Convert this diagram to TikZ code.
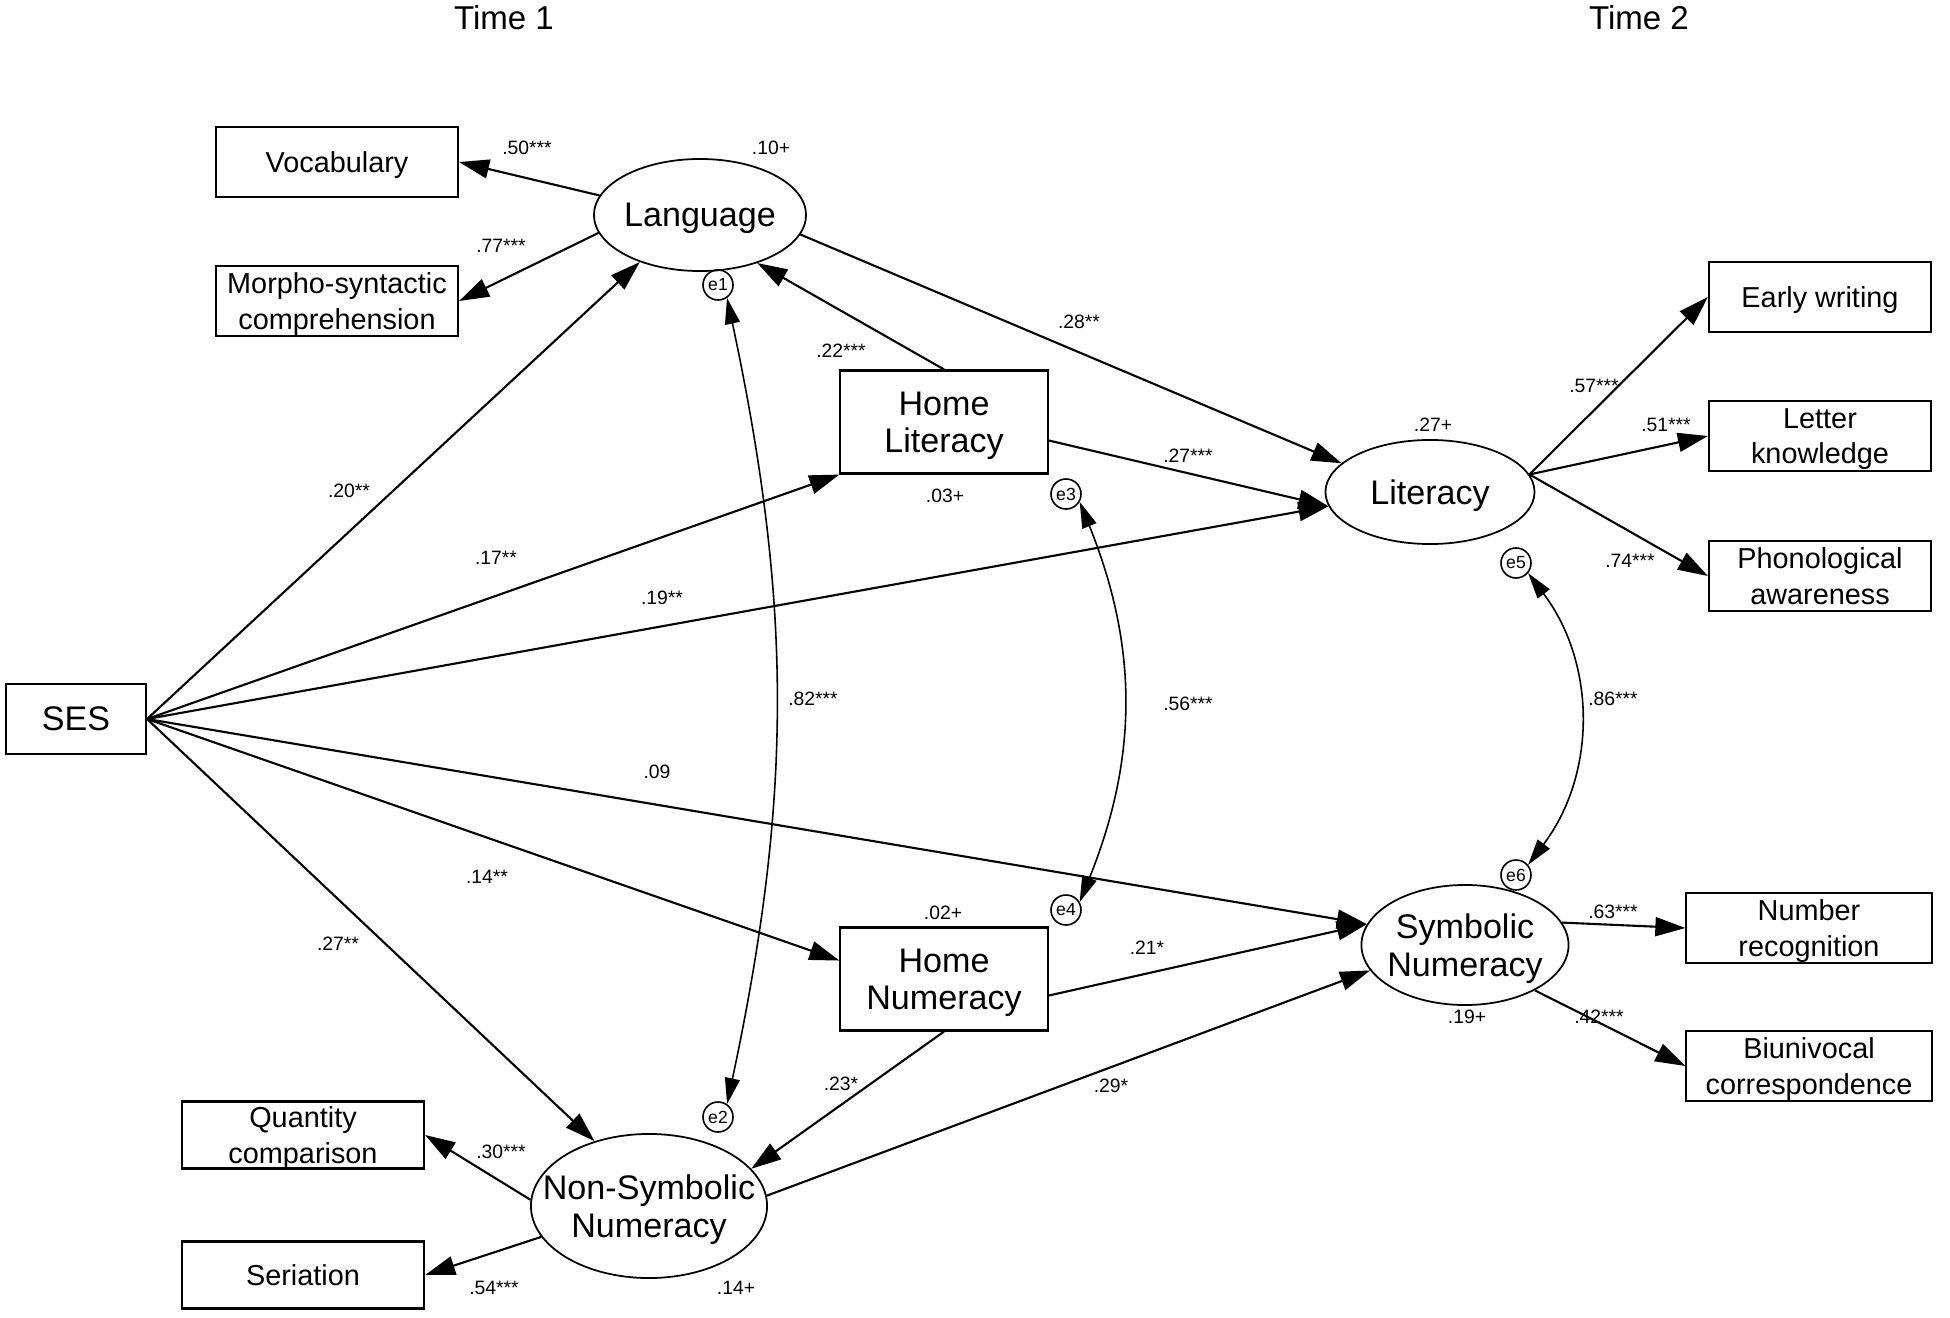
\documentclass[tikz,border=0pt]{standalone}
\usepackage{fontspec}
\setmainfont{Liberation Sans}
\usetikzlibrary{shapes.geometric,arrows.meta}

\begin{document}
\begin{tikzpicture}[x=0.01cm,y=-0.01cm]
                \tikzset{ObsStyle/.style={draw, line width=0.6pt, minimum width=2.42cm, minimum height=0.7cm, inner sep=0pt, text depth=-0.02cm, align=center, font=\fontsize{8.2}{10}\selectfont}}
                \tikzset{HomeStyle/.style={draw, line width=0.6pt, minimum width=2.07cm, minimum height=1.03cm, inner sep=0pt, text depth=-0.02cm, align=center, font=\fontsize{9.7}{10.4}\selectfont}}
                \tikzset{LatStyle/.style={draw, ellipse, line width=0.5pt, inner xsep=-0.3cm, inner ysep=-0.1cm, text depth=-0.02cm, align=center, font=\fontsize{9.7}{11}\selectfont}}
                \tikzset{ErrStyle/.style={draw, circle, line width=0.45pt, minimum size=0.3cm, inner sep=0pt, font=\fontsize{5}{5}\selectfont}}
                \tikzset{CoefStyle/.style={inner sep=0pt, font=\fontsize{5.5}{6}\selectfont}}
                \tikzset{ArrStyle/.style={line width=0.6pt, -{Triangle[length=0.3cm, width=0.19cm]}}}
                \tikzset{CovStyle/.style={line width=0.45pt, {Triangle[length=0.26cm, width=0.15cm]}-{Triangle[length=0.26cm, width=0.15cm]}}}
                \useasboundingbox (0,0) rectangle (1950,1318);
                \node[font=\fontsize{9.4}{10}\selectfont] (T1) at (504,18) {Time 1};
                \node[font=\fontsize{9.4}{10}\selectfont] (T2) at (1639,18) {Time 2};
                \node[ObsStyle] (Voc) at (337,162) {Vocabulary};
                \node[ObsStyle] (Morph) at (337,301) {Morpho-syntactic\\comprehension};
                \node[ObsStyle, minimum width=1.4cm, font=\fontsize{9.7}{10}\selectfont] (SES) at (76,719) {SES};
                \node[ObsStyle, minimum height=0.67cm] (QC) at (303,1135) {Quantity\\comparison};
                \node[ObsStyle, minimum height=0.67cm] (Ser) at (303,1275) {Seriation};
                \node[HomeStyle] (HLit) at (944,422) {Home\\Literacy};
                \node[HomeStyle] (HNum) at (944,979) {Home\\Numeracy};
                \node[ObsStyle, minimum width=2.22cm] (EW) at (1820,297) {Early writing};
                \node[ObsStyle, minimum width=2.22cm] (LK) at (1820,436) {Letter\\knowledge};
                \node[ObsStyle, minimum width=2.22cm] (PA) at (1820,576) {Phonological\\awareness};
                \node[ObsStyle, minimum width=2.45cm] (NR) at (1809,928) {Number\\recognition};
                \node[ObsStyle, minimum width=2.45cm] (BC) at (1809,1066) {Biunivocal\\correspondence};
                \node[LatStyle, minimum width=2.12cm, minimum height=1.12cm] (Lang) at (700,215) {Language};
                \node[LatStyle, minimum width=2.09cm, minimum height=1.04cm] (Lit) at (1430,492) {Literacy};
                \node[LatStyle, minimum width=2.07cm, minimum height=1.2cm] (SN) at (1465,945) {Symbolic\\Numeracy};
                \node[LatStyle, minimum width=2.36cm, minimum height=1.44cm] (NSN) at (649,1206) {Non-Symbolic\\Numeracy};
                \node[ErrStyle] (E1) at (718,285) {e1};
                \node[ErrStyle] (E2) at (718,1117) {e2};
                \node[ErrStyle] (E3) at (1066,494) {e3};
                \node[ErrStyle] (E4) at (1066,910) {e4};
                \node[ErrStyle] (E5) at (1516,563) {e5};
                \node[ErrStyle] (E6) at (1516,875) {e6};
                \draw[ArrStyle] (Lang.169) -- (Voc.east);
                \draw[ArrStyle] (Lang.190) -- (Morph.east);
                \draw[ArrStyle] (Lang.-11) -- (Lit.162);
                \draw[ArrStyle] (HLit.north) -- (Lang.-40);
                \draw[ArrStyle] (HLit.-10) -- (Lit.188);
                \draw[ArrStyle] (SES.east) -- (Lang.218);
                \draw[ArrStyle] (SES.east) -- (HLit.south west);
                \draw[ArrStyle] (SES.east) -- (Lit.188);
                \draw[ArrStyle] (SES.east) -- (SN.168);
                \draw[ArrStyle] (SES.east) -- (HNum.170);
                \draw[ArrStyle] (SES.east) -- (NSN.130);
                \draw[ArrStyle] (HNum.-9) -- (SN.168);
                \draw[ArrStyle] (HNum.south) -- (NSN.20);
                \draw[ArrStyle] (NSN.5) -- (SN.195);
                \draw[ArrStyle] (NSN.177) -- (QC.east);
                \draw[ArrStyle] (NSN.196) -- (Ser.east);
                \draw[ArrStyle] (Lit.10) -- (EW.west);
                \draw[ArrStyle] (Lit.10) -- (LK.west);
                \draw[ArrStyle] (Lit.10) -- (PA.west);
                \draw[ArrStyle] (SN.13) -- (NR.west);
                \draw[ArrStyle] (SN.-33) -- (BC.west);
                \draw[CovStyle] (E1.-55) to[bend left=12] (E2.55);
                \draw[CovStyle] (E3.-30) to[bend left=22] (E4.30);
                \draw[CovStyle] (E5.-40) to[bend left=37] (E6.40);
                \node[CoefStyle] (C1) at (527,148) {.50***};
                \node[CoefStyle] (C2) at (771,148) {.10+};
                \node[CoefStyle] (C3) at (501,246) {.77***};
                \node[CoefStyle] (C4) at (841,351) {.22***};
                \node[CoefStyle] (C5) at (1079,322) {.28**};
                \node[CoefStyle] (C6) at (1188,456) {.27***};
                \node[CoefStyle] (C7) at (945,496) {.03+};
                \node[CoefStyle] (C8) at (1433,425) {.27+};
                \node[CoefStyle] (C9) at (1594,386) {.57***};
                \node[CoefStyle] (C10) at (1666,425) {.51***};
                \node[CoefStyle] (C11) at (1630,561) {.74***};
                \node[CoefStyle] (C12) at (349,491) {.20**};
                \node[CoefStyle] (C13) at (496,558) {.17**};
                \node[CoefStyle] (C14) at (662,598) {.19**};
                \node[CoefStyle] (C15) at (813,699) {.82***};
                \node[CoefStyle] (C16) at (1188,704) {.56***};
                \node[CoefStyle] (C17) at (1613,699) {.86***};
                \node[CoefStyle] (C18) at (657,772) {.09};
                \node[CoefStyle] (C19) at (487,877) {.14**};
                \node[CoefStyle] (C20) at (338,944) {.27**};
                \node[CoefStyle] (C21) at (943,913) {.02+};
                \node[CoefStyle] (C22) at (1147,948) {.21*};
                \node[CoefStyle] (C23) at (1613,912) {.63***};
                \node[CoefStyle] (C24) at (1467,1017) {.19+};
                \node[CoefStyle] (C25) at (1599,1017) {.42***};
                \node[CoefStyle] (C26) at (841,1084) {.23*};
                \node[CoefStyle] (C27) at (1111,1086) {.29*};
                \node[CoefStyle] (C28) at (501,1152) {.30***};
                \node[CoefStyle] (C29) at (494,1288) {.54***};
                \node[CoefStyle] (C30) at (736,1288) {.14+};
            \end{tikzpicture}
\end{document}
